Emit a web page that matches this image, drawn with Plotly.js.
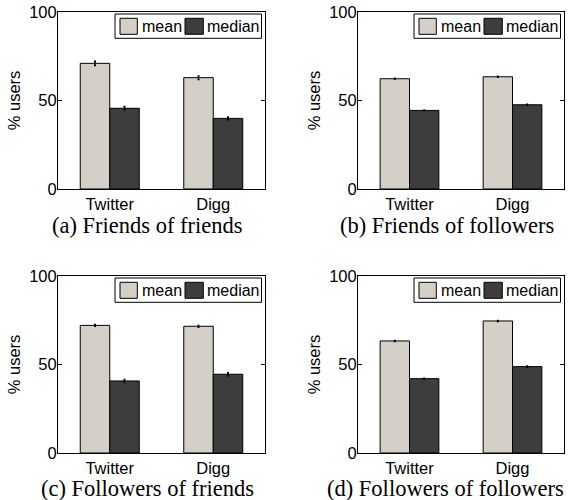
<!DOCTYPE html>
<html>
<head>
<meta charset="utf-8">
<script src="https://cdn.plot.ly/plotly-3.0.1.min.js"></script>
<style>html,body{margin:0;padding:0;background:#fff;}#chart{width:575px;height:500px;}</style>
</head>
<body>
<div id="chart"></div>
<script>
// ---- data ----
const categories = ['Twitter', 'Digg'];
const seriesNames = ['mean', 'median'];
const panelCaptions = ['(a) Friends of friends', '(b) Friends of followers', '(c) Followers of friends', '(d) Followers of followers'];

const aMean = [71.0, 62.9];
const aMedian = [45.6, 39.9];
const aMeanErr = [1.2, 1.0];
const aMedianErr = [1.0, 0.8];

const bMean = [62.3, 63.4];
const bMedian = [44.4, 47.6];
const bMeanErr = [0.3, 0.3];
const bMedianErr = [0.2, 0.3];

const cMean = [72.1, 71.6];
const cMedian = [40.7, 44.5];
const cMeanErr = [0.5, 0.5];
const cMedianErr = [0.8, 0.8];

const dMean = [63.3, 74.6];
const dMedian = [42.0, 48.8];
const dMeanErr = [0.3, 0.3];
const dMedianErr = [0.3, 0.3];

const yTicks = [0, 50, 100];

// ---- styling ----
const meanColor = '#d4d0c8';
const medianColor = '#3d3d3d';
const seriesColors = [meanColor, medianColor];
const sansFont = 'Liberation Sans, Arial, sans-serif';
const serifFont = 'Liberation Serif, Times New Roman, serif';

const panels = [
  {mean: aMean, median: aMedian, meanErr: aMeanErr, medianErr: aMedianErr},
  {mean: bMean, median: bMedian, meanErr: bMeanErr, medianErr: bMedianErr},
  {mean: cMean, median: cMedian, meanErr: cMeanErr, medianErr: cMedianErr},
  {mean: dMean, median: dMedian, meanErr: dMeanErr, medianErr: dMedianErr}
];

const W = 575, H = 500;
// panel boxes in pixels: [left, right, top, bottom]
const boxes = [[58, 265, 12, 189], [358, 564, 12, 189], [58, 265, 276, 453], [358, 564, 276, 453]];
const captionPos = [[147, 226], [447, 226], [147, 488], [445, 488]];
const px = v => v / W;
const py = v => 1 - v / H;

const traces = [];
const layout = {
  width: W, height: H,
  margin: {l: 0, r: 0, t: 0, b: 0},
  paper_bgcolor: '#fff', plot_bgcolor: '#fff',
  barmode: 'group', bargap: 0.43, bargroupgap: 0,
  showlegend: false,
  font: {family: sansFont, size: 16, color: '#000'},
  annotations: [],
  shapes: []
};

panels.forEach((p, i) => {
  const n = i === 0 ? '' : String(i + 1);
  const xa = 'x' + n, ya = 'y' + n;
  const [L, R, T, B] = boxes[i];
  traces.push({
    type: 'bar', x: categories, y: p.mean, name: seriesNames[0],
    xaxis: xa, yaxis: ya,
    marker: {color: meanColor, line: {color: '#000', width: 1}},
    error_y: {type: 'data', array: p.meanErr, visible: true, color: '#000', thickness: 1.5, width: 1}
  });
  traces.push({
    type: 'bar', x: categories, y: p.median, name: seriesNames[1],
    xaxis: xa, yaxis: ya,
    marker: {color: medianColor, line: {color: '#000', width: 1}},
    error_y: {type: 'data', array: p.medianErr, visible: true, color: '#000', thickness: 1.5, width: 1}
  });
  layout['xaxis' + n] = {
    domain: [px(L), px(R)], anchor: ya, range: [-0.5, 1.5],
    showline: true, linecolor: '#000', linewidth: 1, mirror: true,
    ticks: '', showgrid: false, zeroline: false,
    tickfont: {family: sansFont, size: 16.5, color: '#000'}
  };
  layout['yaxis' + n] = {
    domain: [py(B), py(T)], anchor: xa, range: [0, 100],
    tickvals: yTicks, ticktext: yTicks.map(String),
    showline: true, linecolor: '#000', linewidth: 1, mirror: 'ticks',
    ticks: 'inside', ticklen: 4, tickcolor: '#000',
    ticklabelstandoff: -3,
    showgrid: false, zeroline: false,
    tickfont: {family: sansFont, size: 16.5, color: '#000'},
    title: {text: '% users', font: {family: sansFont, size: 16.5, color: '#000'}, standoff: 4}
  };

  // legend box drawn inside the top-right of each panel
  layout.shapes.push({
    type: 'rect', xref: 'paper', yref: 'paper',
    x0: px(R - 150), x1: px(R - 3.5), y0: py(T + 26.3), y1: py(T + 2),
    line: {color: '#000', width: 1}, fillcolor: '#fff', layer: 'above'
  });
  const symX = [[R - 145, R - 127.7], [R - 80, R - 61.7]];
  const txtX = [R - 125.5, R - 59.8];
  seriesNames.forEach((s, k) => {
    layout.shapes.push({
      type: 'rect', xref: 'paper', yref: 'paper',
      x0: px(symX[k][0]), x1: px(symX[k][1]), y0: py(T + 22.3), y1: py(T + 6.3),
      line: {color: '#000', width: 1}, fillcolor: seriesColors[k], layer: 'above'
    });
    layout.annotations.push({
      xref: 'paper', yref: 'paper', x: px(txtX[k]), y: py(T + 14.5),
      xanchor: 'left', yanchor: 'middle', showarrow: false,
      text: s, font: {family: sansFont, size: 16, color: '#000'}
    });
  });

  layout.annotations.push({
    xref: 'paper', yref: 'paper', x: px(captionPos[i][0]), y: py(captionPos[i][1]),
    xanchor: 'center', yanchor: 'middle', showarrow: false,
    text: panelCaptions[i], font: {family: serifFont, size: 22.5, color: '#000'}
  });
});

Plotly.newPlot('chart', traces, layout, {staticPlot: true});
</script>
</body>
</html>
